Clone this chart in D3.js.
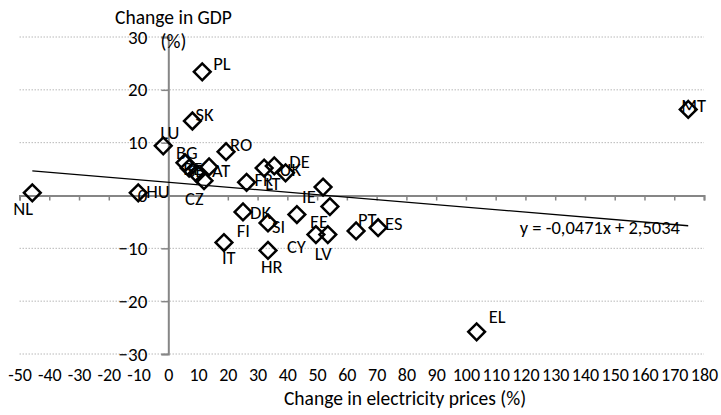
<!DOCTYPE html>
<html>
<head>
<meta charset="utf-8">
<script src="https://cdn.jsdelivr.net/npm/d3@7"></script>
<style>
  body { margin: 0; background: #fff; }
  svg text { font-family: Carlito, Calibri, Lato, sans-serif; fill: #000; }
</style>
</head>
<body>
<div id="chart"></div>
<script>
// data
const countries = ["PL","SK","LU","RO","BG","BE","SE","AT","CZ","HU","NL","FR","LT","DE","UK",
                   "IE","EE","FI","DK","SI","IT","HR","CY","LV","PT","ES","EL","MT"];
const priceChange = [11.4, 8.1, -1.7, 19.4, 5.6, 7.0, 9.6, 13.7, 12.0, -10.1, -45.7, 26.3, 32.2, 35.6, 39.4,
                     52.0, 54.3, 43.2, 25.1, 33.5, 18.7, 33.5, 49.6, 53.6, 63.1, 70.5, 103.6, 174.7];
const gdpChange = [23.4, 14.1, 9.4, 8.3, 6.2, 5.2, 4.1, 5.4, 2.8, 0.5, 0.5, 2.5, 5.2, 5.6, 4.3,
                   1.6, -2.1, -3.6, -3.1, -5.2, -8.9, -10.4, -7.4, -7.4, -6.7, -6.1, -25.8, 16.3];
const xTicks = d3.range(-50, 181, 10);
const yTicks = d3.range(-30, 31, 10);
const trendCoef = [-0.0471, 2.5034];
const trendText = "y = -0,0471x + 2,5034";

const data = countries.map((c, i) => ({c: c, x: priceChange[i], y: gdpChange[i]}));

// where each data label sits relative to its marker (px)
const labelPos = {
  PL:[11,-8], SK:[3,-6], LU:[-3,-13], RO:[4,-7], BG:[-9,-10], BE:[-6,0], SE:[-10,-3], AT:[3,4],
  CZ:[-19,18], HU:[8,-1], NL:[-19,16], FR:[8,-3], LT:[1,15], DE:[15,-4], UK:[-6,-3], IE:[-21,9],
  EE:[-20,15], FI:[-60,16], DK:[7,1], SI:[4,4], IT:[-2,15], HR:[-7,16], CY:[-29,12], LV:[-13,19],
  PT:[2,-11], ES:[7,-4], EL:[12,-15], MT:[-7,-4]
};

const W = 721, H = 415;
const svg = d3.select('#chart').append('svg')
  .attr('width', W)
  .attr('height', H);

const x = d3.scaleLinear().domain([-50, 180]).range([19.5, 704]);
const y = d3.scaleLinear().domain([-30, 30]).range([354, 37]);

//gridlines
svg.append('g').selectAll('line')
  .data(yTicks.filter(d => d !== 0))
  .join('line')
  .attr('x1', x(-50))
  .attr('x2', x(180))
  .attr('y1', d => y(d))
  .attr('y2', d => y(d))
  .style('stroke', '#b8b8b8')
  .style('stroke-width', 1)
  .style('stroke-dasharray', '1.5,1.5');

//x axis through zero
let xAxis = svg.append('g')
  .attr('transform', 'translate(0,' + y(0) + ')')
  .call(d3.axisBottom(x).tickValues(xTicks).tickSize(5).tickSizeOuter(5).tickFormat(''));
xAxis.select('.domain').style('stroke', '#868686').style('stroke-width', 2);
xAxis.selectAll('.tick line').style('stroke', '#868686').style('stroke-width', 1.5);

//x tick labels at the bottom
let xLabels = svg.append('g')
  .attr('transform', 'translate(0,' + 368 + ')')
  .call(d3.axisBottom(x).tickValues(xTicks).tickSize(0).tickPadding(0).tickFormat(d => d));
xLabels.select('.domain').remove();
xLabels.selectAll('text').style('font-size', '18px');

//y axis through zero
let yAxis = svg.append('g')
  .attr('transform', 'translate(' + x(0) + ',0)')
  .call(d3.axisLeft(y).tickValues(yTicks).tickSize(7).tickSizeOuter(7).tickPadding(14));
yAxis.select('.domain').style('stroke', '#868686').style('stroke-width', 2);
yAxis.selectAll('.tick line').style('stroke', '#868686').style('stroke-width', 1.5);
yAxis.selectAll('text').style('font-size', '19px');

//trendline over the data range
let xExt = d3.extent(priceChange);
svg.append('line')
  .attr('x1', x(xExt[0]))
  .attr('y1', y(trendCoef[0] * xExt[0] + trendCoef[1]))
  .attr('x2', x(xExt[1]))
  .attr('y2', y(trendCoef[0] * xExt[1] + trendCoef[1]))
  .style('stroke', '#000')
  .style('stroke-width', 1.3);

//markers
svg.append('g').selectAll('path')
  .data(data)
  .join('path')
  .attr('d', d3.symbol(d3.symbolSquare, 140))
  .attr('transform', d => 'translate(' + x(d.x) + ',' + y(d.y) + ') rotate(45)')
  .style('fill', 'none')
  .style('stroke', '#000')
  .style('stroke-width', 2.5);

//data labels
svg.append('g').selectAll('text')
  .data(data)
  .join('text')
  .attr('x', d => x(d.x) + labelPos[d.c][0])
  .attr('y', d => y(d.y) + labelPos[d.c][1])
  .attr('dy', '0.35em')
  .style('font-size', '18.5px')
  .text(d => d.c);

//trend equation
svg.append('text')
  .attr('x', 680)
  .attr('y', 228)
  .attr('dy', '0.35em')
  .attr('text-anchor', 'end')
  .style('font-size', '18.5px')
  .text(trendText);

//axis titles
svg.append('text')
  .attr('x', 173.5)
  .attr('y', 24)
  .attr('text-anchor', 'middle')
  .style('font-size', '19.5px')
  .text('Change in GDP');
svg.append('text')
  .attr('x', 173.5)
  .attr('y', 48)
  .attr('text-anchor', 'middle')
  .style('font-size', '19.5px')
  .text('(%)');
svg.append('text')
  .attr('x', 405)
  .attr('y', 405)
  .attr('text-anchor', 'middle')
  .style('font-size', '19.5px')
  .text('Change in electricity prices (%)');
</script>
</body>
</html>
